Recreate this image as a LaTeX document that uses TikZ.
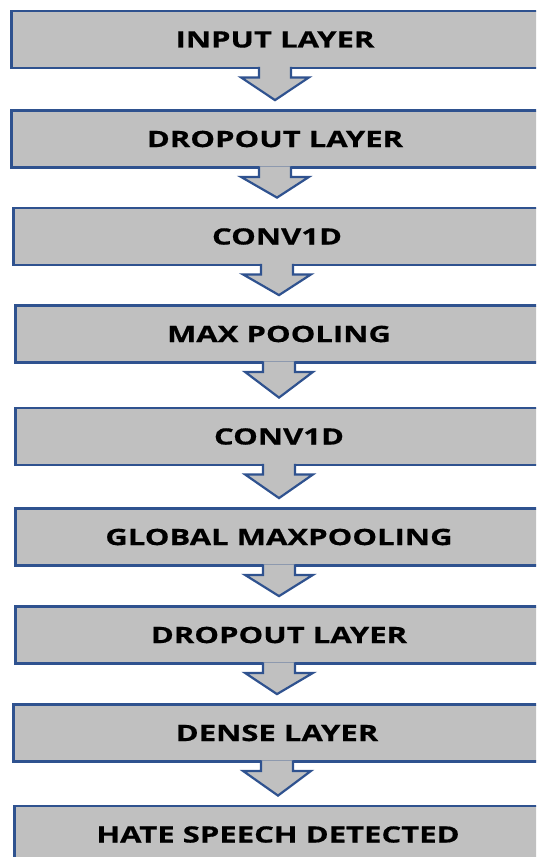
\documentclass[tikz,border=0pt]{standalone}
\usepackage{fontspec}
\newfontfamily\layerfont[FakeStretch=1.38,FakeBold=0.6]{Open Sans}
\usetikzlibrary{calc}
\definecolor{layerblue}{RGB}{47,82,143}
\definecolor{layergray}{RGB}{192,192,192}
\tikzset{
	layer box style/.style={
		draw=layerblue,
		fill=layergray,
		line width=2.8pt,
		minimum width=527pt,
		minimum height=57pt,
		inner sep=0pt,
		font=\layerfont\bfseries\fontsize{22.5}{25}\selectfont
	},
	flow arrow style/.style={
		draw=layerblue,
		fill=layergray,
		line width=2.2pt,
		line join=miter
	}
}

\begin{document}
\begin{tikzpicture}[x=1pt, y=-1pt]
		
		% --- 1. Page Frame ---
		\useasboundingbox (0,0) rectangle (536,857);
		\clip (0,0) rectangle (536,857);
		
		% --- 2. The Layers ---
		% One box per stage of the network, top to bottom
		\node[layer box style] (input)      at (275,39.5)  {INPUT LAYER};
		\node[layer box style] (dropA)      at (275,139)   {DROPOUT LAYER};
		\node[layer box style] (convA)      at (277,236.5) {CONV1D};
		\node[layer box style] (maxpool)    at (279,334)   {MAX POOLING};
		\node[layer box style] (convB)      at (279,436.5) {CONV1D};
		\node[layer box style] (globalpool) at (279,537)   {GLOBAL MAXPOOLING};
		\node[layer box style] (dropB)      at (279,635)   {DROPOUT LAYER};
		\node[layer box style] (dense)      at (277,733)   {DENSE LAYER};
		\node[layer box style] (output)     at (278,834.5) {HATE SPEECH DETECTED};
		
		% --- 3. Block Arrows Between Layers ---
		% Stem starts inside the upper box so its bottom edge is broken
		\foreach \a/\b in {input/dropA, dropA/convA, convA/maxpool, maxpool/convB,
			convB/globalpool, globalpool/dropB, dropB/dense, dense/output} {
			\coordinate (tip) at ($(\b.north)+(0,-9)$);
			\draw[flow arrow style]
				($(\a.south)+(-16,-2.5)$) -- ($(\a.south)+(-16,8)$)
				-- ($(\a.south)+(-34,8)$) -- (tip)
				-- ($(\a.south)+(34,8)$) -- ($(\a.south)+(16,8)$)
				-- ($(\a.south)+(16,-2.5)$);
		}
		
	\end{tikzpicture}
\end{document}
